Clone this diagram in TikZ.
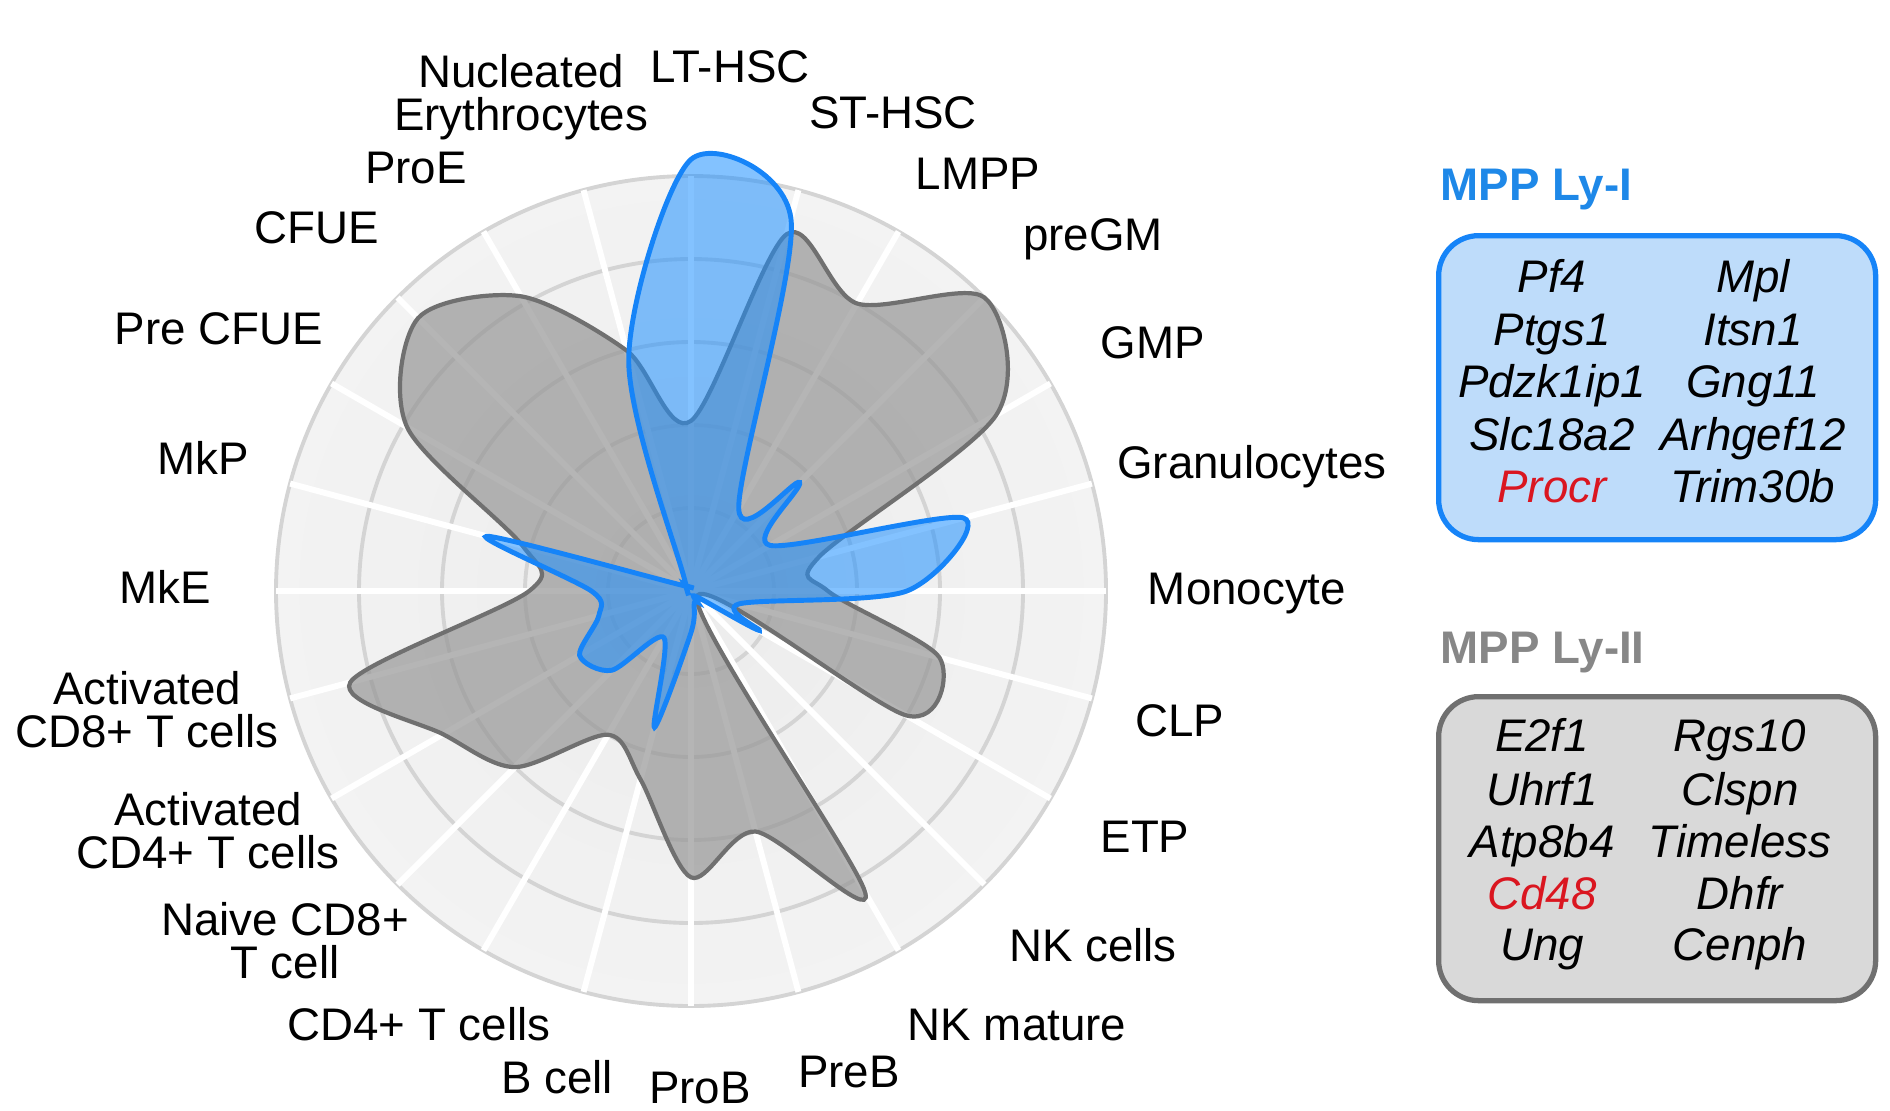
\documentclass[tikz,border=0pt]{standalone}
\usepackage{fontspec}
\setmainfont{Liberation Sans}
\usetikzlibrary{positioning}
\definecolor{lyone}{RGB}{22,132,248}
\definecolor{lyonefill}{RGB}{30,144,255}
\definecolor{lyonebox}{RGB}{190,220,250}
\definecolor{lyonetitle}{RGB}{30,136,232}
\definecolor{lytwo}{RGB}{112,112,112}
\definecolor{lytwofill}{RGB}{150,150,150}
\definecolor{lytwobox}{RGB}{217,217,217}
\definecolor{lytwotitle}{RGB}{135,135,135}
\definecolor{gridgray}{RGB}{212,212,212}
\definecolor{genered}{RGB}{218,22,32}
\pgfdeclareradialshading{diskshade}{\pgfpoint{0bp}{0bp}}{color(0bp)=(gray!15); color(50bp)=(gray!4)}
\tikzstyle{lab}=[font=\fontsize{13}{12}\selectfont, align=center, inner sep=0pt, anchor=base]
\tikzstyle{gene}=[font=\fontsize{13}{14}\selectfont\itshape, inner sep=0pt, anchor=base]
\tikzstyle{boxtitle}=[font=\fontsize{13}{14}\selectfont\bfseries, inner sep=0pt, anchor=base west]
\tikzstyle{genebox}=[rounded corners=4mm, line width=1.5pt, anchor=north west, minimum width=43.7mm, minimum height=30.4mm]
\newcommand{\R}{415}

\begin{document}
\begin{tikzpicture}[x=0.1mm, y=-0.1mm]
\useasboundingbox (0,0) rectangle (1890,1110);

% radar background and the two profiles
\begin{scope}[shift={(691,591)}, yscale=-1]
  \shade[shading=diskshade] (0,0) circle (\R);
  \foreach \f in {1,...,5}
    \draw[gridgray, line width=1.1pt] (0,0) circle ({\f*\R/5});
  \foreach \a in {0,15,...,345}
    \draw[white, line width=1.7pt] (0,0) -- (\a:\R);
  % MPP Ly-II
  \filldraw[fill=lytwofill, fill opacity=.7, draw=lytwo, line width=1.2pt]
    plot[smooth cycle, tension=.5] coordinates {
      (0:{.33*\R}) (15:{.32*\R}) (30:{.85*\R}) (45:{1.0*\R}) (60:{.8*\R}) (75:{.89*\R})
      (90:{.41*\R}) (105:{.6*\R}) (120:{.82*\R}) (135:{.93*\R}) (150:{.79*\R}) (165:{.42*\R})
      (180:{.39*\R}) (195:{.85*\R}) (210:{.69*\R}) (225:{.6*\R}) (240:{.4*\R}) (255:{.47*\R})
      (270:{.69*\R}) (285:{.6*\R}) (300:{.84*\R}) (315:{.02*\R}) (330:{.6*\R}) (345:{.62*\R})};
  % MPP Ly-I
  \filldraw[fill=lyonefill, fill opacity=.55, draw=lyone, line width=1.4pt]
    plot[smooth cycle, tension=.5] coordinates {
      (0:{.52*\R}) (15:{.68*\R}) (30:{.22*\R}) (45:{.37*\R}) (60:{.23*\R}) (75:{.93*\R})
      (90:{1.04*\R}) (105:{.58*\R}) (120:{.03*\R}) (135:{.02*\R}) (150:{.03*\R}) (165:{.51*\R})
      (180:{.24*\R}) (195:{.23*\R}) (210:{.31*\R}) (225:{.27*\R}) (240:{.13*\R}) (255:{.34*\R})
      (270:{.1*\R}) (285:{.03*\R}) (300:{.03*\R}) (315:{.02*\R}) (330:{.19*\R}) (345:{.12*\R})};
\end{scope}

% cell type labels
\node[lab] (nucl) at (521,130) {Nucleated\\Erythrocytes};
\node[lab] (lthsc) at (730,82) {LT-HSC};
\node[lab] (sthsc) at (893,128) {ST-HSC};
\node[lab] (lmpp) at (978,189) {LMPP};
\node[lab] (pregm) at (1093,250) {preGM};
\node[lab] (gmp) at (1153,358) {GMP};
\node[lab] (gran) at (1252,478) {Granulocytes};
\node[lab] (mono) at (1247,604) {Monocyte};
\node[lab] (clp) at (1180,736) {CLP};
\node[lab] (etp) at (1145,852) {ETP};
\node[lab] (nk) at (1093,961) {NK cells};
\node[lab] (nkmat) at (1017,1040) {NK mature};
\node[lab] (preb) at (849,1087) {PreB};
\node[lab] (prob) at (700,1103) {ProB};
\node[lab] (bcell) at (557,1093) {B cell};
\node[lab] (cdfour) at (419,1040) {CD4+ T cells};
\node[lab] (naive) at (285,978) {Naive CD8+\\T cell};
\node[lab] (actfour) at (208,868) {Activated\\CD4+ T cells};
\node[lab] (acteight) at (147,747) {Activated\\CD8+ T cells};
\node[lab] (mke) at (165,603) {MkE};
\node[lab] (mkp) at (203,474) {MkP};
\node[lab] (precfue) at (219,344) {Pre CFUE};
\node[lab] (cfue) at (317,243) {CFUE};
\node[lab] (proe) at (416,183) {ProE};

% gene boxes
\node[boxtitle, text=lyonetitle] (titleone) at (1440,200) {MPP Ly-I};
\node[genebox, draw=lyone, fill=lyonebox] (boxone) at (1436,233) {};
\foreach \g/\h/\y [count=\i] in {Pf4/Mpl/292, Ptgs1/Itsn1/345, Pdzk1ip1/Gng11/397,
    Slc18a2/Arhgef12/450, {\textcolor{genered}{Procr}}/Trim30b/502} {
  \node[gene] (onel\i) at (1552,\y) {\g};
  \node[gene] (oner\i) at (1753,\y) {\h};
}

\node[boxtitle, text=lytwotitle] (titletwo) at (1440,663) {MPP Ly-II};
\node[genebox, draw=lytwo, fill=lytwobox] (boxtwo) at (1436,694) {};
\foreach \g/\h/\y [count=\i] in {E2f1/Rgs10/751, Uhrf1/Clspn/805, Atp8b4/Timeless/857,
    {\textcolor{genered}{Cd48}}/Dhfr/909, Ung/Cenph/960} {
  \node[gene] (twol\i) at (1542,\y) {\g};
  \node[gene] (twor\i) at (1740,\y) {\h};
}
\end{tikzpicture}
\end{document}
